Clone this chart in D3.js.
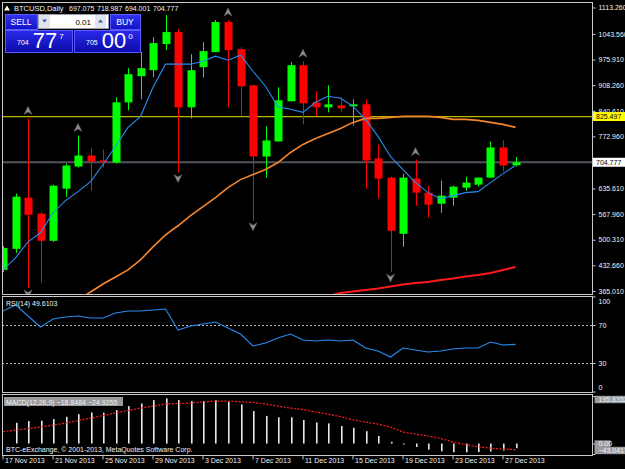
<!DOCTYPE html>
<html>
<head>
<meta charset="utf-8">
<script src="https://cdn.jsdelivr.net/npm/d3@7"></script>
<style>
  html, body { margin: 0; padding: 0; background: #000; overflow: hidden; }
  svg { display: block; }
  text { font-family: "Liberation Sans", Arial, sans-serif; }
</style>
</head>
<body>
<div id="chart"></div>
<script>
// global constants
const WIDTH = 625;
const HEIGHT = 469;
const PANEL = { left: 2, right: 592 };
const MAIN = { top: 2, bottom: 294 };
const RSI_BOX = { top: 296, bottom: 392 };
const MACD_BOX = { top: 394, bottom: 455 };
const FRAME = "#c8c8c8";
const TEXT = "#f2f2f2";

// data: daily BTCUSD bars, 17 Nov 2013 .. 28 Dec 2013
const open = [420.6, 476.3, 611.4, 569.0, 497.5, 635.2, 693.5, 722.6, 709.4, 704.1, 863.0, 931.9, 947.8, 1016.7, 1048.4, 849.8, 955.7, 995.5, 1074.9, 1003.4, 908.0, 720.0, 759.7, 865.7, 961.0, 863.0, 849.8, 855.1, 852.4, 857.7, 714.7, 664.3, 516.0, 661.7, 624.6, 595.5, 611.4, 637.8, 645.8, 664.3, 743.8, 697.075];
const high = [484.0, 622.0, 820.6, 574.0, 645.8, 701.4, 775.6, 743.8, 738.4, 876.3, 953.1, 995.5, 1035.2, 1093.5, 1056.4, 990.2, 1022.0, 1080.2, 1080.2, 1008.7, 908.0, 799.4, 902.7, 969.0, 971.6, 892.2, 908.0, 876.3, 871.0, 871.0, 751.8, 667.0, 674.9, 712.0, 643.1, 656.4, 643.1, 667.0, 664.3, 759.7, 762.4, 718.987];
const low = [415.0, 465.7, 373.0, 386.0, 494.8, 614.0, 690.8, 629.9, 690.8, 701.4, 841.8, 871.0, 929.2, 1000.8, 677.6, 820.6, 929.2, 995.5, 849.8, 825.9, 550.4, 664.3, 759.7, 865.7, 804.7, 825.9, 836.5, 836.5, 802.0, 635.2, 608.7, 415.3, 481.6, 590.2, 558.4, 571.6, 590.2, 629.9, 640.5, 664.3, 680.2, 694.001];
const close = [478.9, 614.0, 566.3, 497.5, 643.0, 696.1, 722.6, 706.7, 704.1, 863.0, 937.2, 953.1, 1019.3, 1048.4, 849.8, 947.8, 998.1, 1074.9, 1000.8, 905.4, 720.0, 762.4, 868.3, 961.0, 860.4, 849.8, 857.7, 847.1, 857.7, 709.4, 661.7, 523.9, 664.3, 624.6, 592.8, 616.7, 640.5, 651.1, 664.3, 743.8, 696.1, 704.777];

// moving averages
const maFast = [420.6, 452.4, 494.8, 518.6, 571.6, 603.4, 627.3, 653.7, 698.8, 746.5, 796.8, 826.0, 902.7, 963.7, 963.7, 963.7, 971.6, 984.9, 974.3, 987.5, 945.0, 905.4, 851.0, 844.5, 836.5, 863.0, 878.9, 873.6, 852.4, 818.0, 773.0, 720.0, 685.5, 651.1, 624.6, 608.7, 616.7, 624.6, 627.3, 651.1, 674.9, 696.1];
const maSlow = [null, null, null, null, null, null, 341.0, 362.4, 383.5, 402.1, 420.6, 447.1, 481.6, 513.3, 537.2, 563.7, 587.5, 611.4, 637.8, 659.0, 672.3, 685.5, 704.1, 730.6, 751.8, 767.6, 780.9, 794.1, 810.0, 820.6, 820.6, 823.3, 825.9, 825.9, 825.9, 823.3, 818.0, 818.0, 815.3, 810.0, 804.7, 796.8];
const maLong = [null, null, null, null, null, null, null, null, null, null, null, null, null, null, null, null, null, null, null, null, null, null, null, null, null, null, 351.8, 359.7, 363.7, 367.6, 371.6, 376.9, 382.2, 386.2, 388.8, 394.1, 398.1, 403.4, 407.4, 412.7, 420.6, 428.6];

// fractals (bar indices)
const fractalUp = [2, 6, 18, 24, 33];
const fractalDown = [2, 14, 20, 31];

// horizontal levels
const levelLine = 825.497;
const bidPrice = 704.777;
const askPrice = 705.0;
const lotSize = "0.01";

// RSI(14)
const rsi = [84.7, 91.1, 79.5, 67.9, 76.3, 78.4, 79.5, 77.4, 77.4, 82.6, 84.7, 84.7, 85.8, 86.8, 64.7, 68.9, 71.1, 73.2, 66.8, 60.5, 47.9, 51.1, 56.3, 60.5, 54.2, 53.2, 54.2, 53.2, 54.2, 45.8, 42.6, 36.3, 45.8, 43.7, 41.6, 42.6, 44.7, 45.8, 45.8, 52.1, 48.9, 49.6103];
const rsiLevels = [70, 30];
const rsiTicks = [100, 70, 30, 0];

// MACD(12,26,9)
const macdMain = [null, 85.7, 92.7, 94, 101, 110, 121, 128, 127, 138, 154, 165, 179, 186, 179, 175, 175, 179, 172, 161, 134, 114, 108, 108, 97, 87, 83, 72, 65, 51, 31, 7, -3, -14, -25, -32, -36, -36, -35, -33, -29, -18.8484];
const macdSignal = [48.6, 55.6, 61.8, 68, 76, 84, 95, 105, 115, 126, 136, 146, 154, 163, 165, 167, 171, 175, 175, 172, 169, 163, 154, 146, 140, 130, 121, 111, 97, 89, 80, 68, 47, 39, 31, 21, 6, -4, -14, -19, -23, -24.9255];
const macdTicks = [195.8352, 0, -43.0417];

// axis labels
const priceTicks = [1113.26, 1043.56, 975.91, 908.26, 840.61, 772.96, 635.61, 567.96, 500.31, 432.66, 365.01];
const dateTickBars = [0, 4, 8, 12, 16, 20, 24, 28, 32, 36, 40];
const dateLabels = ["17 Nov 2013", "21 Nov 2013", "25 Nov 2013", "29 Nov 2013", "3 Dec 2013", "7 Dec 2013", "11 Dec 2013", "15 Dec 2013", "19 Dec 2013", "23 Dec 2013", "27 Dec 2013"];

// scales
const x = d3.scaleLinear().domain([0, 41]).range([3, 515.5]);
const yPrice = d3.scaleLinear().domain([365.01, 1113.26]).range([291, 7.5]);
const yRsi = d3.scaleLinear().domain([0, 100]).range([391.5, 296.5]);
const yMacd = d3.scaleLinear().domain([-43.0417, 195.8352]).range([454, 396]);

const svg = d3
  .select("#chart")
  .append("svg")
  .attr("width", WIDTH)
  .attr("height", HEIGHT)
  .style("background", "#000");
const defs = svg.append("defs");

function addClip(id, box) {
  defs
    .append("clipPath")
    .attr("id", id)
    .append("rect")
    .attr("x", PANEL.left + 1)
    .attr("y", box.top + 1)
    .attr("width", PANEL.right - PANEL.left - 1)
    .attr("height", box.bottom - box.top - 1);
}

function drawFrame(box) {
  svg
    .append("rect")
    .attr("x", PANEL.left + 0.5)
    .attr("y", box.top + 0.5)
    .attr("width", PANEL.right - PANEL.left)
    .attr("height", box.bottom - box.top)
    .attr("fill", "none")
    .attr("stroke", FRAME)
    .attr("stroke-width", 1);
}

// right axis with ticks, labels clamped inside the panel like MT4 does
function rightAxis(scale, values, fmt, box) {
  const g = svg
    .append("g")
    .attr("transform", `translate(${PANEL.right + 0.5},0)`)
    .call(d3.axisRight(scale).tickValues(values).tickSize(3).tickPadding(3).tickFormat(fmt));
  g.select(".domain").remove();
  g.selectAll(".tick line").attr("stroke", FRAME);
  g.selectAll(".tick text")
    .attr("fill", TEXT)
    .attr("font-size", 7)
    .attr("font-family", "Liberation Sans, Arial, sans-serif")
    .attr("y", (d) => {
      const y = scale(d);
      return Math.min(Math.max(y, box.top + 5), box.bottom - 5) - y;
    })
    .attr("dy", "0.32em");
  return g;
}

function drawMainPanel() {
  addClip("clipMain", MAIN);
  const g = svg.append("g").attr("clip-path", "url(#clipMain)");

  // level line and bid line
  g.append("line")
    .attr("x1", PANEL.left).attr("x2", PANEL.right)
    .attr("y1", yPrice(levelLine)).attr("y2", yPrice(levelLine))
    .attr("stroke", "#b8b800").attr("stroke-width", 1.2);
  g.append("line")
    .attr("x1", PANEL.left).attr("x2", PANEL.right)
    .attr("y1", yPrice(bidPrice)).attr("y2", yPrice(bidPrice))
    .attr("stroke", "#4e555c").attr("stroke-width", 2);

  // candles
  const bars = d3.range(open.length).map((i) => ({
    i, o: open[i], h: high[i], l: low[i], c: close[i],
  }));
  g.selectAll("g.candle")
    .data(bars)
    .join("g")
    .attr("class", "candle")
    .each(function (d) {
      const color = d.c >= d.o ? "#00ff00" : "#ff0000";
      const left = Math.round(x(d.i) - 4);
      const yo = yPrice(d.o), yc = yPrice(d.c);
      d3.select(this)
        .append("rect")
        .attr("x", left + 4)
        .attr("y", yPrice(d.h))
        .attr("width", 1)
        .attr("height", yPrice(d.l) - yPrice(d.h))
        .attr("fill", color);
      d3.select(this)
        .append("rect")
        .attr("x", left + 0.5)
        .attr("y", Math.min(yo, yc))
        .attr("width", 8)
        .attr("height", Math.max(1.5, Math.abs(yo - yc)))
        .attr("fill", color);
    });

  // moving averages
  const line = d3
    .line()
    .defined((d) => d != null)
    .x((d, i) => x(i))
    .y((d) => yPrice(d));
  g.append("path").attr("d", line(maLong)).attr("fill", "none")
    .attr("stroke", "#ff1a1a").attr("stroke-width", 2);
  g.append("path").attr("d", line(maSlow)).attr("fill", "none")
    .attr("stroke", "#f5862c").attr("stroke-width", 1.6);
  g.append("path").attr("d", line(maFast)).attr("fill", "none")
    .attr("stroke", "#2a8cf0").attr("stroke-width", 1.1);

  // fractals
  g.selectAll("path.fup")
    .data(fractalUp)
    .join("path")
    .attr("class", "fup")
    .attr("d", "M0,-4L4,4L0,1.5L-4,4Z")
    .attr("transform", (i) => `translate(${x(i)},${yPrice(high[i]) - 8})`)
    .attr("fill", "#8e8e8e").attr("stroke", "#5a5a5a").attr("stroke-width", 0.6);
  g.selectAll("path.fdown")
    .data(fractalDown)
    .join("path")
    .attr("class", "fdown")
    .attr("d", "M0,4L4,-4L0,-1.5L-4,-4Z")
    .attr("transform", (i) => `translate(${x(i)},${yPrice(low[i]) + 6})`)
    .attr("fill", "#8e8e8e").attr("stroke", "#5a5a5a").attr("stroke-width", 0.6);

  drawFrame(MAIN);

  // price axis
  rightAxis(yPrice, priceTicks, d3.format(".3f"), { top: 0, bottom: 469 });

  // level label (yellow) and bid label (white)
  [[levelLine, "#ffff00"], [bidPrice, "#ffffff"]].forEach(([v, bg]) => {
    const yy = yPrice(v);
    svg.append("rect")
      .attr("x", PANEL.right + 1).attr("y", yy - 4.5)
      .attr("width", WIDTH - PANEL.right - 1).attr("height", 9)
      .attr("fill", bg);
    svg.append("text")
      .attr("x", PANEL.right + 4).attr("y", yy)
      .attr("dy", "0.34em")
      .attr("font-size", 7).attr("fill", "#000")
      .text(d3.format(".3f")(v));
  });
}

function drawRsiPanel() {
  addClip("clipRsi", RSI_BOX);
  const g = svg.append("g").attr("clip-path", "url(#clipRsi)");
  g.selectAll("line.level")
    .data(rsiLevels)
    .join("line")
    .attr("class", "level")
    .attr("x1", PANEL.left).attr("x2", PANEL.right)
    .attr("y1", (d) => Math.round(yRsi(d)) + 0.5).attr("y2", (d) => Math.round(yRsi(d)) + 0.5)
    .attr("stroke", "#bdbdbd").attr("stroke-dasharray", "2,2");
  g.append("path")
    .attr("d", d3.line().x((d, i) => x(i)).y((d) => yRsi(d))(rsi))
    .attr("fill", "none").attr("stroke", "#2a8cf0").attr("stroke-width", 1.1);

  drawFrame(RSI_BOX);
  rightAxis(yRsi, rsiTicks, d3.format("d"), RSI_BOX);

  svg.append("text")
    .attr("x", 6).attr("y", 306)
    .attr("font-size", 7).attr("fill", TEXT)
    .text(`RSI(14) ${d3.format(".4f")(rsi[rsi.length - 1])}`);
}

function drawMacdPanel() {
  addClip("clipMacd", MACD_BOX);
  const g = svg.append("g").attr("clip-path", "url(#clipMacd)");
  const zero = yMacd(0);
  g.selectAll("rect.hist")
    .data(macdMain.map((v, i) => ({ v, i })).filter((d) => d.v != null))
    .join("rect")
    .attr("class", "hist")
    .attr("x", (d) => Math.round(x(d.i)))
    .attr("width", 1.6)
    .attr("y", (d) => Math.min(zero, yMacd(d.v)))
    .attr("height", (d) => Math.max(1, Math.abs(yMacd(d.v) - zero)))
    .attr("fill", "#e8e8e8");
  g.append("path")
    .attr("d", d3.line().x((d, i) => x(i)).y((d) => yMacd(d))(macdSignal))
    .attr("fill", "none").attr("stroke", "#ff1e1e")
    .attr("stroke-width", 1.2).attr("stroke-dasharray", "2,1.5");

  drawFrame(MACD_BOX);

  // axis ticks and grey label boxes
  const fmt = (d) => (d === 0 ? "0.00" : d3.format(".4f")(d));
  const ax = rightAxis(yMacd, macdTicks, fmt, MACD_BOX);
  ax.selectAll(".tick").each(function (d) {
    const t = d3.select(this).select("text");
    const yy = +t.attr("y");
    d3.select(this)
      .insert("rect", "text")
      .attr("x", 2)
      .attr("y", yy - 3.7)
      .attr("width", d === 0 ? 16 : 31)
      .attr("height", 7.4)
      .attr("fill", "#9a9a9a");
  });

  // indicator label
  const label = `MACD(12,26,9) ${d3.format(".4f")(macdMain[macdMain.length - 1])} ${d3.format(".4f")(macdSignal[macdSignal.length - 1])}`;
  svg.append("rect")
    .attr("x", 4).attr("y", 397).attr("width", 119).attr("height", 9)
    .attr("fill", "#9a9a9a");
  svg.append("text")
    .attr("x", 6).attr("y", 404.5)
    .attr("font-size", 7).attr("fill", "#f0f0f0")
    .text(label);

  svg.append("text")
    .attr("x", 6).attr("y", 452)
    .attr("font-size", 7).attr("fill", TEXT)
    .text("BTC-eExchange, \u00a9 2001-2013, MetaQuotes Software Corp.");
}

function drawDateAxis() {
  const g = svg
    .append("g")
    .attr("transform", `translate(-0.5,${MACD_BOX.bottom + 0.5})`)
    .call(
      d3.axisBottom(x)
        .tickValues(dateTickBars)
        .tickSize(4)
        .tickFormat((d) => dateLabels[dateTickBars.indexOf(d)])
    );
  g.select(".domain").remove();
  g.selectAll(".tick line").attr("stroke", FRAME);
  g.selectAll(".tick text")
    .attr("fill", TEXT)
    .attr("font-size", 7)
    .attr("font-family", "Liberation Sans, Arial, sans-serif")
    .attr("text-anchor", "start")
    .attr("x", 2)
    .attr("y", 3)
    .attr("dy", "0.71em");
}

function drawHeader() {
  svg.append("path").attr("d", "M4,10.5L10,10.5L7,5.5Z").attr("fill", "#ffffff");
  svg.append("text")
    .attr("x", 14).attr("y", 11)
    .attr("font-size", 7.5).attr("fill", TEXT)
    .text("BTCUSD,Daily");
  const last = open.length - 1;
  [open[last], high[last], low[last], close[last]].forEach((v, k) => {
    svg.append("text")
      .attr("x", 69 + k * 28).attr("y", 11)
      .attr("font-size", 7).attr("fill", TEXT)
      .text(d3.format(".3f")(v));
  });
}

function drawTradePanel() {
  const grad = defs.append("linearGradient").attr("id", "blueBtn")
    .attr("x1", 0).attr("y1", 0).attr("x2", 0).attr("y2", 1);
  grad.append("stop").attr("offset", "0%").attr("stop-color", "#3434f0");
  grad.append("stop").attr("offset", "100%").attr("stop-color", "#1212c4");
  const gradP = defs.append("linearGradient").attr("id", "bluePrice")
    .attr("x1", 0).attr("y1", 0).attr("x2", 0).attr("y2", 1);
  gradP.append("stop").attr("offset", "0%").attr("stop-color", "#2a2aea");
  gradP.append("stop").attr("offset", "100%").attr("stop-color", "#0a0aa8");

  const g = svg.append("g").attr("class", "one-click");
  const box = (x0, y0, w, h, fill) =>
    g.append("rect").attr("x", x0 + 0.5).attr("y", y0 + 0.5)
      .attr("width", w).attr("height", h)
      .attr("fill", fill).attr("stroke", "#5a5aff").attr("stroke-width", 1);

  box(5, 14, 32, 15, "url(#blueBtn)");
  box(110, 14, 30, 15, "url(#blueBtn)");
  box(5, 30, 67, 22, "url(#bluePrice)");
  box(74, 30, 66, 22, "url(#bluePrice)");

  g.append("text").attr("x", 21).attr("y", 25).attr("text-anchor", "middle")
    .attr("font-size", 8.5).attr("fill", "#fff").text("SELL");
  g.append("text").attr("x", 125).attr("y", 25).attr("text-anchor", "middle")
    .attr("font-size", 8.5).attr("fill", "#fff").text("BUY");

  // lot input
  g.append("rect").attr("x", 38.5).attr("y", 14.5).attr("width", 70).attr("height", 14)
    .attr("fill", "#ffffff").attr("stroke", "#9aa0b0");
  [[39, "M42,19.5L47,19.5L44.5,22.5Z"], [95, "M98,22.5L103,22.5L100.5,19.5Z"]].forEach(([bx, tri]) => {
    g.append("rect").attr("x", bx).attr("y", 15).attr("width", 11).attr("height", 13)
      .attr("fill", "#dfe4ee");
    g.append("path").attr("d", tri).attr("fill", "#3a5aa8");
  });
  g.append("text").attr("x", 91).attr("y", 25).attr("text-anchor", "end")
    .attr("font-size", 8).attr("fill", "#000").text(lotSize);

  // split prices: big figure, pips, fraction
  [[bidPrice, 17], [askPrice, 86]].forEach(([p, x0]) => {
    const s = d3.format(".3f")(p);
    const [whole, frac] = s.split(".");
    const t1 = g.append("text").attr("x", x0).attr("y", 45)
      .attr("font-size", 7).attr("fill", "#fff").text(whole);
    const w1 = t1.node().getComputedTextLength();
    const t2 = g.append("text").attr("x", x0 + w1 + 4).attr("y", 48)
      .attr("font-size", 22).attr("fill", "#fff").text(frac.slice(0, 2));
    const w2 = t2.node().getComputedTextLength();
    g.append("text").attr("x", x0 + w1 + 4 + w2 + 2).attr("y", 39)
      .attr("font-size", 8).attr("fill", "#fff").text(frac.slice(2));
  });
}

function main() {
  drawMainPanel();
  drawRsiPanel();
  drawMacdPanel();
  drawDateAxis();
  drawHeader();
  drawTradePanel();
}

main();
</script>
</body>
</html>
